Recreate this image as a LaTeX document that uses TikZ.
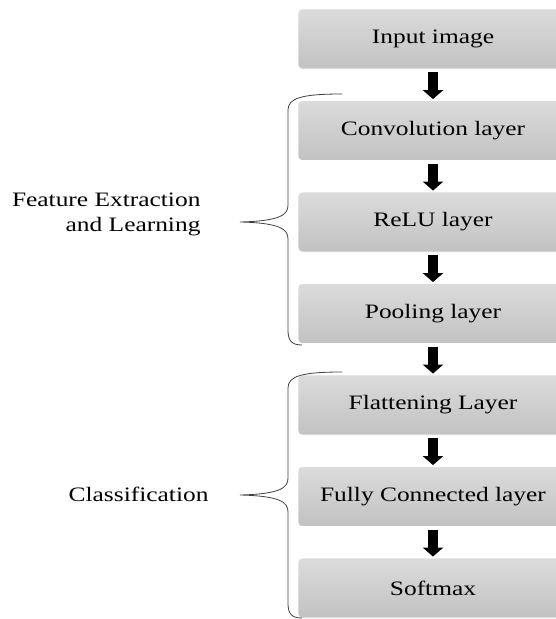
\documentclass[tikz,border=0pt]{standalone}
\usepackage{fontspec}
\setmainfont{Liberation Serif}[FakeStretch=1.24]
\usetikzlibrary{positioning,arrows.meta}

\tikzset{
    layerbox/.style={rectangle,rounded corners=4pt,minimum width=270pt,minimum height=60pt,
        top color=black!14,bottom color=black!24,draw=white,line width=0.8pt,
        font=\fontsize{20.5}{25}\selectfont},
    blockarrow/.style={-{Triangle[width=20pt,length=9pt]},line width=10pt,shorten >=1pt},
    brace/.style={draw=black!75,line width=0.8pt}
}

\begin{document}
\begin{tikzpicture}[x=1pt,y=-1pt,node distance=91.5pt,on grid]
        \useasboundingbox (0,0) rectangle (556,619);
        \node[layerbox] (input) at (433,39) {Input image};
        \node[layerbox] (conv) [below=of input] {Convolution layer};
        \node[layerbox] (relu) [below=of conv] {ReLU layer};
        \node[layerbox] (pool) [below=of relu] {Pooling layer};
        \node[layerbox] (flat) [below=of pool] {Flattening Layer};
        \node[layerbox] (fc) [below=of flat] {Fully Connected layer};
        \node[layerbox] (soft) [below=of fc] {Softmax};
        \foreach \a/\b in {input/conv,conv/relu,relu/pool,pool/flat,flat/fc,fc/soft}
            \draw[blockarrow] ([yshift=-3pt]\a.south) -- (\b.north);
        % braces
        \coordinate (tipA) at (240,222);
        \coordinate (tipB) at (240,495);
        \draw[brace] (342,94) .. controls (302,94) and (288,98) .. (288,110) -- (288,205)
            .. controls (288,215) and (280,221) .. (tipA)
            .. controls (280,223) and (288,229) .. (288,239) -- (288,330)
            .. controls (288,340) and (291,345) .. (302,345);
        \draw[brace] (342,372) .. controls (302,372) and (288,376) .. (288,388) -- (288,478)
            .. controls (288,488) and (280,494) .. (tipB)
            .. controls (280,496) and (288,502) .. (288,512) -- (288,603)
            .. controls (288,613) and (291,618) .. (302,618);
        \node[anchor=east,align=right,font=\fontsize{20.5}{25}\selectfont] (feat) at (204,214)
            {Feature Extraction\\and Learning};
        \node[anchor=east,font=\fontsize{20.5}{25}\selectfont] (cls) at (212,494) {Classification};
\end{tikzpicture}
\end{document}
